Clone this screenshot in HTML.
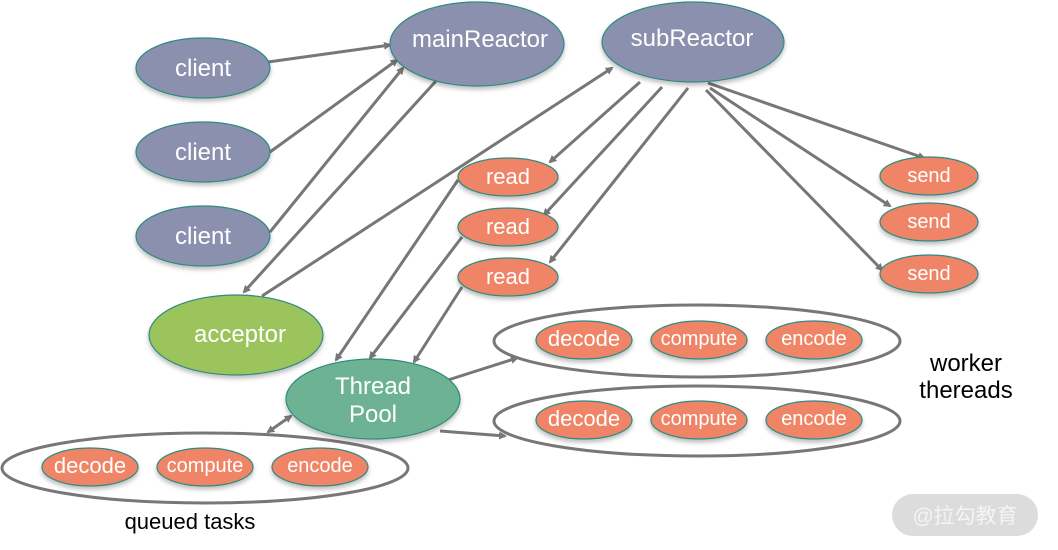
<!DOCTYPE html>
<html><head><meta charset="utf-8"><style>
html,body{margin:0;padding:0;background:#fff;width:1058px;height:550px;overflow:hidden}
svg text{font-family:"Liberation Sans","Noto Sans CJK SC",sans-serif}
</style></head><body>
<svg width="1058" height="550" viewBox="0 0 1058 550" xmlns="http://www.w3.org/2000/svg">
<defs>
<marker id="a" markerWidth="8" markerHeight="8" refX="6" refY="4" orient="auto" markerUnits="userSpaceOnUse"><path d="M0,0 L8,4 L0,8 z" fill="#777"/></marker>
<marker id="b" markerWidth="8" markerHeight="8" refX="2" refY="4" orient="auto" markerUnits="userSpaceOnUse"><path d="M8,0 L0,4 L8,8 z" fill="#777"/></marker>
<filter id="s" x="-10%" y="-10%" width="120%" height="130%"><feDropShadow dx="0" dy="3" stdDeviation="2" flood-color="#000" flood-opacity="0.25"/></filter>
</defs>
<g fill="none" stroke="#777" stroke-width="3">
<ellipse cx="205" cy="468" rx="203" ry="35"/>
<ellipse cx="697" cy="341" rx="203" ry="36"/>
<ellipse cx="697" cy="421" rx="203" ry="35"/>
</g>
<g stroke="#777" stroke-width="3" marker-end="url(#a)">
<line x1="268" y1="62" x2="390" y2="45"/>
<line x1="270" y1="152" x2="397" y2="60"/>
<line x1="270" y1="232" x2="403" y2="68"/>
<line x1="436" y1="81" x2="244" y2="292"/>
<line x1="262" y1="296" x2="612" y2="68"/>
<line x1="640" y1="82" x2="550" y2="162"/>
<line x1="662" y1="87" x2="544" y2="215"/>
<line x1="688" y1="88" x2="550" y2="262"/>
<line x1="458" y1="180" x2="336" y2="360"/>
<line x1="462" y1="237" x2="370" y2="358"/>
<line x1="462" y1="287" x2="414" y2="362"/>
<line x1="708" y1="83" x2="924" y2="158"/>
<line x1="710" y1="88" x2="890" y2="206"/>
<line x1="706" y1="90" x2="882" y2="270"/>
<line x1="448" y1="380" x2="517" y2="358"/>
<line x1="440" y1="431" x2="505" y2="436"/>
<line x1="268" y1="432" x2="291" y2="416" marker-start="url(#b)"/>
</g>
<g stroke="#2e8b80" stroke-width="1.2" filter="url(#s)">
<ellipse cx="203" cy="68" rx="67" ry="30" fill="#8b90ae"/>
<ellipse cx="203" cy="152" rx="67" ry="30" fill="#8b90ae"/>
<ellipse cx="203" cy="236" rx="67" ry="30" fill="#8b90ae"/>
<ellipse cx="477" cy="44" rx="87" ry="42" fill="#8b90ae"/>
<ellipse cx="693" cy="42" rx="91" ry="40" fill="#8b90ae"/>
<ellipse cx="236" cy="335" rx="87" ry="40" fill="#9cc45c"/>
<ellipse cx="373" cy="399" rx="87" ry="40" fill="#6db393"/>
<g fill="#ef8466">
<ellipse cx="508" cy="177" rx="50" ry="19"/>
<ellipse cx="508" cy="227" rx="50" ry="19"/>
<ellipse cx="508" cy="277" rx="50" ry="19"/>
<ellipse cx="929" cy="176" rx="49" ry="19"/>
<ellipse cx="929" cy="222" rx="49" ry="19"/>
<ellipse cx="929" cy="274" rx="49" ry="19"/>
<ellipse cx="90" cy="467" rx="48" ry="19"/>
<ellipse cx="205" cy="467" rx="48" ry="19"/>
<ellipse cx="320" cy="467" rx="48" ry="19"/>
<ellipse cx="584" cy="340" rx="48" ry="19"/>
<ellipse cx="699" cy="340" rx="48" ry="19"/>
<ellipse cx="814" cy="340" rx="48" ry="19"/>
<ellipse cx="584" cy="420" rx="48" ry="19"/>
<ellipse cx="699" cy="420" rx="48" ry="19"/>
<ellipse cx="814" cy="420" rx="48" ry="19"/>
</g>
</g>
<g fill="#fff" text-anchor="middle" font-size="24">
<text x="203" y="76">client</text>
<text x="203" y="160">client</text>
<text x="203" y="244">client</text>
<text x="480" y="47">mainReactor</text>
<text x="692" y="46">subReactor</text>
<text x="240" y="342">acceptor</text>
<text x="373" y="394">Thread</text>
<text x="373" y="422">Pool</text>
<g font-size="22">
<text x="508" y="184">read</text><text x="508" y="234">read</text><text x="508" y="284">read</text>
<text x="90" y="473">decode</text>
<text x="584" y="346">decode</text><text x="584" y="426">decode</text>
</g>
<g font-size="20">
<text x="929" y="182">send</text><text x="929" y="228">send</text><text x="929" y="280">send</text>
<text x="205" y="472">compute</text><text x="699" y="345">compute</text><text x="699" y="425">compute</text>
<text x="814" y="345">encode</text><text x="814" y="425">encode</text><text x="320" y="472">encode</text>
</g>
</g>
<g fill="#000" text-anchor="middle" font-size="24">
<text x="966" y="371">worker</text>
<text x="966" y="398">thereads</text>
<text x="190" y="529" font-size="22">queued tasks</text>
</g>
<rect x="892" y="494" width="146" height="42" rx="21" fill="#dcdcdc"/>
<text x="965" y="523" text-anchor="middle" font-size="21" fill="#f4f4f4">@拉勾教育</text>
</svg>
</body></html>
